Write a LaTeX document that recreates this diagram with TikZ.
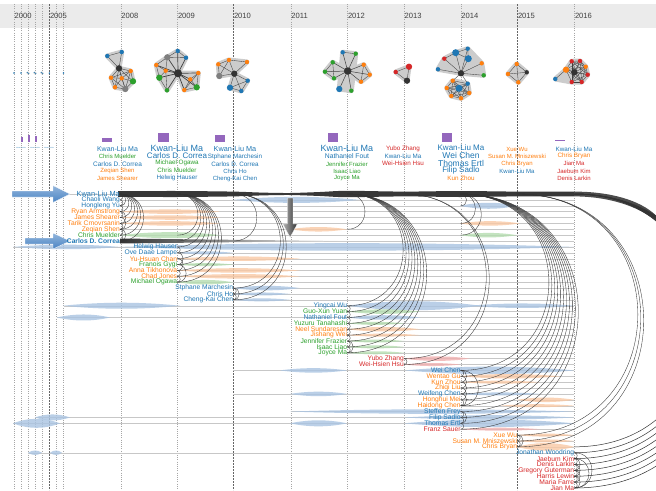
\documentclass[tikz,border=0pt]{standalone}
\usepackage{fontspec}
\setmainfont{Liberation Sans}
\usetikzlibrary{arrows.meta}
\definecolor{cblue}{HTML}{1F77B4}
\definecolor{corange}{HTML}{FF7F0E}
\definecolor{cgreen}{HTML}{2CA02C}
\definecolor{cred}{HTML}{D62728}
\definecolor{cpurple}{HTML}{9467BD}
\definecolor{cgray}{HTML}{7F7F7F}
\definecolor{cdark}{HTML}{333333}
\definecolor{bblue}{HTML}{A9C4E2}
\definecolor{borange}{HTML}{F9C9A4}
\definecolor{bgreen}{HTML}{B5DDB0}
\definecolor{bred}{HTML}{F0B0B0}
\definecolor{hdr}{HTML}{EBEBEB}
\definecolor{arrowblue}{HTML}{4A84C4}
\newcommand\KY[1]{194+5.88*#1}
\newcommand\karc[3][]{\draw[arcln,#1] (#2,194) .. controls ({#2+3.92*#3},194) and ({#2+3.92*#3},{\KY{#3}}) .. (#2,{\KY{#3}});}
\newcommand\kloop[3]{\draw[arcln] (#1,{\KY{#2}}) .. controls ({#1+3.92*(#3-#2)},{\KY{#2}}) and ({#1+3.92*(#3-#2)},{\KY{#3}}) .. (#1,{\KY{#3}});}
\newcommand\kband[5]{\fill[#5,opacity=.8] (#1,{\KY{#3}}) .. controls ({(2*#1+#2)/3},{\KY{#3}-#4}) and ({(#1+2*#2)/3},{\KY{#3}-#4}) .. (#2,{\KY{#3}}) .. controls ({(#1+2*#2)/3},{\KY{#3}+#4}) and ({(2*#1+#2)/3},{\KY{#3}+#4}) .. cycle;}
\newcommand\krow[3]{\draw[rowln] (#2,{\KY{#1}}) -- (#3,{\KY{#1}});}
\newcommand\nmnode[4]{\node[nm,text=#3] (r#1) at (#2,{\KY{#1}}) {#4};}
\newcommand\tcnode[5]{\node[tc,text=#4,font=\fontsize{#1}{#1}\selectfont] at (#2,#3) {#5};}
\begin{document}
\begin{tikzpicture}[x=1pt,y=-1pt,
  yl/.style={black!35, line width=0.4pt, dash pattern=on 1pt off 1.2pt},
  ylk/.style={black!60, line width=0.5pt, dash pattern=on 2pt off 1pt},
  yt/.style={anchor=west, inner sep=0, font=\fontsize{7.6}{8}\selectfont, text=black!75},
  hull/.style={fill=black!20, draw=black!20, line width=5pt, line join=round},
  gedge/.style={draw=black!75, line width=0.35pt},
  vx/.style={circle, inner sep=0, minimum size=4.4pt, fill=#1},
  vbig/.style={circle, inner sep=0, minimum size=6.3pt, fill=#1},
  nm/.style={anchor=east, inner sep=0pt, font=\fontsize{6.7}{7}\selectfont},
  tc/.style={inner sep=0},
  rowln/.style={black!22, line width=0.35pt},
  arcln/.style={black!80, line width=0.35pt},
]
\useasboundingbox (0,0) rectangle (656,490);
\clip (0,0) rectangle (656,490);
\fill[white] (0,0) rectangle (656,490);
% header
\fill[hdr] (0,4) rectangle (656,28);
\foreach \x in {14,21,28,35,42,56.5,63.5,120.7,177.3,290.7,347.3,404,460.7,574.3} {\draw[yl] (\x,4) -- (\x,490);}
\foreach \x in {49.3,233.3,517.3} {\draw[ylk] (\x,4) -- (\x,490);}
\foreach \x/\t in {14/2000,49.3/2005,120.7/2008,177.3/2009,233.3/2010,290.7/2011,347.3/2012,404/2013,460.7/2014,517.3/2015,574.3/2016}
  {\node[yt] (yr\t) at (\x+0.5,16) {\t};}

% ---------- early tiny graphs
\foreach \x in {14,21,28,35,42,49.3,63.5} {\fill[cblue] (\x,73) circle (0.8);}
\foreach \x in {28,35,42} {\fill[black!20] (\x,73) circle (1.6); \fill[cblue] (\x-0.8,72.5) circle (0.6); \fill[cblue] (\x+0.8,73.5) circle (0.6);}

% ---------- 2008 graph
\coordinate (g8a) at (107.3,56); \coordinate (g8b) at (121.7,52); \coordinate (g8c) at (119,68.3);
\coordinate (g8d) at (130.7,71); \coordinate (g8e) at (111,77.7); \coordinate (g8f) at (121.7,78.3);
\coordinate (g8g) at (133,81.3); \coordinate (g8h) at (115,87.3); \coordinate (g8i) at (125.3,89);
\filldraw[hull] (g8a)--(g8b)--(g8c)--cycle;
\filldraw[hull] (g8c)--(g8d)--(g8g)--(g8i)--(g8h)--(g8e)--cycle;
\foreach \u/\v in {a/b,a/c,b/c,c/d,c/e,c/f,c/g,c/h,c/i,d/f,d/g,d/e,e/f,e/h,f/g,f/h,f/i,g/i,h/i,e/i,d/i}
  {\draw[gedge] (g8\u)--(g8\v);}
\node[vx=cblue] at (g8a) {}; \node[vx=cblue] at (g8b) {}; \node[vbig=cdark] at (g8c) {};
\node[vx=corange] at (g8d) {}; \node[vx=corange] at (g8e) {}; \node[vx=corange] at (g8f) {};
\node[vbig=cgreen] at (g8g) {}; \node[vx=corange] at (g8h) {}; \node[vbig=cgray] at (g8i) {};

% ---------- 2009 graph
\coordinate (g9p) at (167.3,57.3); \coordinate (g9q) at (177.7,51); \coordinate (g9r) at (186,57.7);
\coordinate (g9s) at (156.3,65); \coordinate (g9t) at (165.7,70.7); \coordinate (g9C) at (178,73.3);
\coordinate (g9u) at (198.3,73); \coordinate (g9v) at (159.3,77.7); \coordinate (g9w) at (190.3,79.3);
\coordinate (g9x) at (196.7,87.3); \coordinate (g9y) at (184.3,90); \coordinate (g9z) at (167,90.3);
\filldraw[hull] (g9p)--(g9q)--(g9r)--(g9C)--cycle;
\filldraw[hull] (g9s)--(g9p)--(g9C)--(g9z)--(g9v)--cycle;
\filldraw[hull] (g9C)--(g9u)--(g9x)--(g9y)--cycle;
\foreach \v in {p,q,r,s,t,u,v,w,x,y,z} {\draw[gedge,line width=0.7pt] (g9C)--(g9\v);}
\foreach \u/\v in {p/q,q/r,p/r,p/s,p/t,s/t,s/v,t/v,v/z,t/z,u/w,w/x,u/x,w/y,y/x,u/y}
  {\draw[gedge] (g9\u)--(g9\v);}
\node[vbig=cgray] at (g9p) {}; \node[vx=cblue] at (g9q) {}; \node[vx=cblue] at (g9r) {};
\node[vx=corange] at (g9s) {}; \node[vx=corange] at (g9t) {};
\node[circle,inner sep=0,minimum size=8pt,fill=cdark] at (g9C) {};
\node[vx=corange] at (g9u) {}; \node[vbig=cgreen] at (g9v) {}; \node[vx=corange] at (g9w) {};
\node[vbig=cgreen] at (g9x) {}; \node[vx=corange] at (g9y) {}; \node[vx=cgreen] at (g9z) {};

% ---------- 2010 graph
\coordinate (gAa) at (218.3,64.3); \coordinate (gAb) at (229,60); \coordinate (gAk) at (247,62);
\coordinate (gAd) at (219.3,76); \coordinate (gAe) at (234.3,73.7); \coordinate (gAf) at (247.7,80.7);
\coordinate (gAg) at (230,87.7); \coordinate (gAh) at (241.3,91);
\filldraw[hull] (gAa)--(gAb)--(gAk)--(gAe)--(gAd)--cycle;
\filldraw[hull] (gAe)--(gAf)--(gAh)--(gAg)--cycle;
\foreach \v in {a,b,k,d,f,g,h} {\draw[gedge] (gAe)--(gA\v);}
\foreach \u/\v in {a/b,a/d,b/d,b/k,f/g,f/h,g/h} {\draw[gedge] (gA\u)--(gA\v);}
\node[vx=corange] at (gAa) {}; \node[vx=corange] at (gAb) {}; \node[vx=corange] at (gAk) {};
\node[vbig=cgray] at (gAd) {}; \node[vbig=cdark] at (gAe) {}; \node[vx=cblue] at (gAf) {};
\node[vbig=cblue] at (gAg) {}; \node[vx=cblue] at (gAh) {};

% ---------- 2012 graph
\coordinate (gCa) at (342.7,52.3); \coordinate (gCb) at (355.7,53.7); \coordinate (gCc) at (332.7,62.3);
\coordinate (gCj) at (325,71.7); \coordinate (gCC) at (347.7,71); \coordinate (gCd) at (334,78.3);
\coordinate (gCe) at (339.3,89); \coordinate (gCf) at (351.3,90.7); \coordinate (gCg) at (363.7,64.7);
\coordinate (gCh) at (369.7,74.7); \coordinate (gCi) at (361,81.7);
\filldraw[hull] (gCa)--(gCb)--(gCf)--(gCe)--cycle;
\filldraw[hull] (gCc)--(gCC)--(gCd)--(gCj)--cycle;
\filldraw[hull] (gCC)--(gCg)--(gCh)--(gCi)--cycle;
\foreach \v in {a,b,c,j,d,e,f,g,h,i} {\draw[gedge,line width=0.5pt] (gCC)--(gC\v);}
\foreach \u/\v in {a/b,c/j,j/d,c/d,g/h,h/i,g/i} {\draw[gedge] (gC\u)--(gC\v);}
\node[vx=cblue] at (gCa) {}; \node[vx=cgreen] at (gCb) {}; \node[vx=cgreen] at (gCc) {};
\node[vx=cgreen] at (gCj) {}; \node[circle,inner sep=0,minimum size=7.5pt,fill=cdark] at (gCC) {};
\node[vx=cgreen] at (gCd) {}; \node[vbig=cblue] at (gCe) {}; \node[vx=cgreen] at (gCf) {};
\node[vx=corange] at (gCg) {}; \node[vx=corange] at (gCh) {}; \node[vx=corange] at (gCi) {};

% ---------- 2013 graph
\coordinate (gDa) at (395.7,72); \coordinate (gDb) at (409,66.7); \coordinate (gDc) at (407,80.7);
\filldraw[hull] (gDa)--(gDb)--(gDc)--cycle;
\draw[gedge] (gDa)--(gDb)--(gDc)--cycle;
\node[vx=cred] at (gDa) {}; \node[vbig=cred] at (gDb) {}; \node[vbig=cdark] at (gDc) {};

% ---------- 2014 graph
\coordinate (gEa) at (455.7,52.7); \coordinate (gEb) at (467.7,48.7); \coordinate (gEc) at (468.3,58.7);
\coordinate (gEd) at (444.3,58.7); \coordinate (gEe) at (438,69.3); \coordinate (gEf) at (481.7,63.3);
\coordinate (gEC) at (461,73.3); \coordinate (gEg) at (483.7,75.3);
\coordinate (gEh) at (452.7,80.7); \coordinate (gEi) at (467.7,83.7); \coordinate (gEj) at (446.7,88);
\coordinate (gEk) at (459,88.3); \coordinate (gEl) at (469.3,93); \coordinate (gEm) at (451.3,96);
\coordinate (gEn) at (461,98.3);
\filldraw[hull] (gEe)--(gEd)--(gEa)--(gEb)--(gEf)--(gEg)--(gEC)--cycle;
\filldraw[hull] (gEh)--(gEi)--(gEl)--(gEn)--(gEm)--(gEj)--cycle;
\foreach \v in {a,b,c,d,e,f,g,h,i} {\draw[gedge] (gEC)--(gE\v);}
\foreach \u/\v in {a/b,b/c,a/c,d/a,h/i,h/j,h/k,h/l,h/m,h/n,i/j,i/k,i/l,i/m,i/n,j/k,j/l,j/m,j/n,k/l,k/m,k/n,l/m,l/n,m/n}
  {\draw[gedge] (gE\u)--(gE\v);}
\node[vbig=cblue,minimum size=7pt] at (gEa) {}; \node[vx=cblue] at (gEb) {}; \node[vbig=cblue,minimum size=7pt] at (gEc) {};
\node[vx=cred] at (gEd) {}; \node[vx=cblue] at (gEe) {}; \node[vx=corange] at (gEf) {};
\node[vbig=cdark] at (gEC) {}; \node[vx=cgreen] at (gEg) {};
\node[vx=corange] at (gEh) {}; \node[vx=cblue] at (gEi) {}; \node[vx=corange] at (gEj) {};
\node[vbig=cblue,minimum size=7pt] at (gEk) {}; \node[vx=corange] at (gEl) {}; \node[vx=corange] at (gEm) {};
\node[vx=corange] at (gEn) {};

% ---------- 2015 graph
\coordinate (gFa) at (516.7,64); \coordinate (gFb) at (508,74); \coordinate (gFc) at (526.7,72.3); \coordinate (gFd) at (518.3,82.3);
\filldraw[hull] (gFa)--(gFc)--(gFd)--(gFb)--cycle;
\foreach \u/\v in {a/b,a/c,a/d,b/c,b/d,c/d} {\draw[gedge] (gF\u)--(gF\v);}
\node[vx=corange] at (gFa) {}; \node[vx=corange] at (gFb) {}; \node[vx=cdark] at (gFc) {}; \node[vx=corange] at (gFd) {};

% ---------- 2016 graph
\coordinate (gGb) at (555.3,79); \coordinate (gGo) at (566,69.7); \coordinate (gGr) at (571.7,61.3);
\coordinate (gGs) at (580,61); \coordinate (gGp) at (585.7,66.7); \coordinate (gGt) at (587.7,74.7);
\coordinate (gGu) at (581.7,82); \coordinate (gGv) at (571.7,82); \coordinate (gGD) at (574.3,72.3);
\filldraw[hull] (gGb)--(gGo)--(gGr)--(gGs)--(gGp)--(gGt)--(gGu)--(gGv)--cycle;
\draw[gedge] (gGb)--(gGo);
\foreach \u/\v in {o/r,o/s,o/p,o/t,o/u,o/v,o/D,r/s,r/p,r/t,r/u,r/v,r/D,s/p,s/t,s/u,s/v,s/D,p/t,p/u,p/v,p/D,t/u,t/v,t/D,u/v,u/D,v/D}
  {\draw[gedge] (gG\u)--(gG\v);}
\node[vx=cblue] at (gGb) {}; \node[vbig=corange] at (gGo) {}; \node[vx=cred] at (gGr) {};
\node[vx=cred] at (gGs) {}; \node[vx=corange] at (gGp) {}; \node[vx=cred] at (gGt) {};
\node[vx=cred] at (gGu) {}; \node[vx=cred] at (gGv) {}; \node[vbig=cdark] at (gGD) {};

% ---------- purple bars
\fill[cpurple] (101.7,137.7) rectangle (111.7,141.7);
\fill[cpurple] (158.3,133.3) rectangle (169,141.7);
\fill[cpurple] (215,135) rectangle (225,141.7);
\fill[cpurple] (328.3,133.3) rectangle (338.3,141.7);
\fill[cpurple] (442.3,133.3) rectangle (452.3,141.7);
\fill[cpurple] (555,140) rectangle (565,141.2);
\fill[cpurple] (21,136.5) rectangle (23,141.5);
\fill[cpurple] (28,134.5) rectangle (30,141.5);
\fill[cpurple] (35,135.5) rectangle (37,141.5);
\foreach \x in {21,35,49} {\node[inner sep=0,text=cblue,font=\fontsize{1.6}{2}\selectfont] at (\x,147.5) {Kwan-Liu Ma};}

% ---------- top name columns
\tcnode{7}{117.5}{149}{cblue}{Kwan-Liu Ma}
\tcnode{6}{117.5}{156.5}{cgreen}{Chris Muelder}
\tcnode{6.5}{117.5}{164}{cblue}{Carlos D. Correa}
\tcnode{6}{117.5}{171}{corange}{Zeqian Shen}
\tcnode{6}{117.5}{178.5}{corange}{James Shearer}
\tcnode{9}{177}{148}{cblue}{Kwan-Liu Ma}
\tcnode{8}{177}{155.5}{cblue}{Carlos D. Correa}
\tcnode{6.3}{177}{163}{cgreen}{Michael Ogawa}
\tcnode{6.3}{177}{170.5}{cgreen}{Chris Muelder}
\tcnode{6.3}{177}{178}{cblue}{Helwig Hauser}
\tcnode{7.3}{235}{149}{cblue}{Kwan-Liu Ma}
\tcnode{6.3}{235}{157}{cblue}{Stphane Marchesin}
\tcnode{6.3}{235}{164}{cblue}{Carlos D. Correa}
\tcnode{6}{235}{171}{cblue}{Chris Ho}
\tcnode{6}{235}{178.5}{cblue}{Cheng-Kai Chen}
\tcnode{9}{347}{148}{cblue}{Kwan-Liu Ma}
\tcnode{6.8}{347}{156.5}{cblue}{Nathaniel Fout}
\tcnode{6}{347}{164}{cgreen}{Jennifer Frazier}
\tcnode{6}{347}{171}{cgreen}{Isaac Liao}
\tcnode{6}{347}{178}{cgreen}{Joyce Ma}
\tcnode{6.3}{403}{149}{cred}{Yubo Zhang}
\tcnode{6.3}{403}{156}{cblue}{Kwan-Liu Ma}
\tcnode{6.3}{403}{163}{cred}{Wei-Hsien Hsu}
\tcnode{8}{461}{148}{cblue}{Kwan-Liu Ma}
\tcnode{8.5}{461}{155.5}{cblue}{Wei Chen}
\tcnode{8.5}{461}{163}{cblue}{Thomas Ertl}
\tcnode{8}{461}{170.5}{cblue}{Filip Sadlo}
\tcnode{6.3}{461}{178}{corange}{Kun Zhou}
\tcnode{6}{517}{149}{corange}{Xue Wu}
\tcnode{6}{517}{156}{corange}{Susan M. Mniszewski}
\tcnode{6}{517}{163.5}{corange}{Chris Bryan}
\tcnode{6}{517}{171}{cblue}{Kwan-Liu Ma}
\tcnode{6.3}{574}{149}{cblue}{Kwan-Liu Ma}
\tcnode{6.3}{574}{156}{corange}{Chris Bryan}
\tcnode{6}{574}{163.5}{cred}{Jian Ma}
\tcnode{6}{574}{171}{cred}{Jaebum Kim}
\tcnode{6}{574}{178}{cred}{Denis Larkin}

% ---------- row lines (end at 2016)
\draw[rowln] (13,194) -- (120,194);
\foreach \k in {1,...,8} {\krow{\k}{120}{574.3}}
\foreach \k in {10,...,15} {\krow{\k}{177.3}{574.3}}
\krow{9}{13}{574.3}
\foreach \k in {16,17,18} {\krow{\k}{233.3}{574.3}}
\krow{19}{63.5}{574.3} \krow{20}{347.3}{574.3} \krow{21}{56.5}{574.3}
\foreach \k in {22,...,27} {\krow{\k}{347.3}{574.3}}
\krow{28}{404}{574.3} \krow{29}{404}{574.3}
\krow{30}{233.3}{574.3}
\foreach \k in {31,32,33,35,36,40} {\krow{\k}{460.7}{574.3}}
\krow{34}{233.3}{574.3} \krow{37}{290.7}{574.3} \krow{38}{35}{574.3} \krow{39}{13}{574.3}
\foreach \k in {41,42,43} {\krow{\k}{517.3}{574.3}}
\krow{44}{28}{578}
\foreach \k in {45,...,50} {\krow{\k}{574.3}{578}}

% ---------- bands
\kband{13}{120}{9}{3}{bblue} \kband{120}{574.3}{9}{5}{bblue}
\kband{233}{360}{1}{4}{bblue} \kband{460}{517}{2}{4}{bblue}
\kband{120}{220}{3}{3}{borange} \kband{120}{220}{4}{3}{borange} \kband{120}{220}{5}{3}{borange}
\kband{460}{520}{5}{3}{borange} \kband{290}{347}{6}{3}{borange}
\kband{120}{220}{7}{4}{bgreen} \kband{460}{517}{7}{3}{bgreen}
\kband{177}{233}{10}{2}{bblue} \kband{177}{300}{11}{3}{borange} \kband{177}{233}{12}{2}{bgreen}
\kband{177}{300}{13}{3}{borange} \kband{177}{300}{14}{3}{borange} \kband{177}{233}{15}{3}{bgreen}
\kband{233}{300}{16}{3}{bblue} \kband{233}{290}{17}{2}{bblue} \kband{233}{290}{18}{2}{bblue}
\kband{63}{180}{19}{4}{bblue} \kband{347}{480}{19}{6}{bblue} \kband{470}{574.3}{19}{3}{bblue}
\kband{347}{420}{20}{3}{bgreen} \kband{57}{110}{21}{4}{bblue} \kband{347}{420}{21}{3}{bblue}
\kband{347}{404}{22}{2}{bgreen} \kband{347}{420}{23}{3}{borange} \kband{347}{420}{24}{2}{borange}
\kband{347}{404}{25}{2}{bgreen} \kband{347}{404}{26}{2}{bgreen} \kband{347}{404}{27}{2}{bgreen}
\kband{404}{470}{28}{3}{bred} \kband{404}{460}{29}{2}{bred}
\kband{280}{347}{30}{3}{bblue} \kband{405}{574.3}{30}{5}{bblue}
\kband{460}{560}{31}{3}{borange} \kband{460}{540}{32}{2}{borange}
\kband{290}{347}{34}{3}{bblue} \kband{460}{540}{34}{2}{bblue} \kband{517}{574.3}{35}{3}{borange}
\kband{500}{574.3}{36}{2}{borange}
\kband{290}{574.3}{37}{3}{bblue} \kband{35}{70}{38}{4}{bblue} \kband{404}{574.3}{38}{3}{bblue}
\kband{13}{60}{39}{6}{bblue} \kband{290}{347}{39}{4}{bblue} \kband{404}{574.3}{39}{5}{bblue}
\kband{460}{540}{40}{2}{bred}
\kband{517}{574.3}{41}{2}{borange} \kband{517}{574.3}{42}{2}{borange} \kband{517}{574.3}{43}{5}{borange}
\kband{28}{42}{44}{3}{bblue} \kband{50}{62}{44}{3}{bblue}

% ---------- Kwan-Liu Ma main band
\fill[black!78] plot[smooth] coordinates {(118,191.2) (177,191) (233,191.6) (262,192.6) (290,193) (320,192) (347,190.8) (404,191.6) (460,191) (517,191.6) (574,191.6)}
  -- plot[smooth] coordinates {(574,196.4) (517,196.4) (460,197) (404,196.4) (347,197.2) (320,196) (290,195) (262,195.4) (233,196.4) (177,197) (118,196.8)} -- cycle;
\shade[left color=black!80, right color=black!3] (120,238.5) .. controls (200,239.5) and (300,240.5) .. (347,241) .. controls (300,241.5) and (200,242.5) .. (120,243.5) -- cycle;
% thick start of the 2016 bundle
\fill[black!70] (574,191.6) .. controls (610,191.6) and (640,200) .. (656,215.5) -- (656,221) .. controls (638,206) and (608,196.4) .. (574,196.4) -- cycle;

% ---------- arcs
\foreach \k in {1,...,8} {\karc{120}{\k}}
\foreach \k in {7,...,15} {\karc{177.3}{\k}}
\foreach \k in {8,16,17,18} {\karc{233.3}{\k}}
\foreach \k in {6,19,20,...,27} {\karc{347.3}{\k}}
\karc{404}{28} \karc{404}{29}
\foreach \k in {2,5,7,30,31,...,40} {\karc{460.7}{\k}}
\foreach \k in {41,42,43} {\karc{517.3}{\k}}
\foreach \k in {43,44,...,50} {\karc[line width=0.5pt]{574.3}{\k}}
\foreach \a/\b in {1/2,2/3,3/4,3/5,4/6,5/6,6/7,6/8,7/8} {\kloop{120}{\a}{\b}}
\foreach \a/\b in {9/10,10/12,11/13,13/14,12/15,14/15} {\kloop{177.3}{\a}{\b}}
\foreach \a/\b in {16/17,17/18,16/18} {\kloop{233.3}{\a}{\b}}
\foreach \a/\b in {19/20,20/21,21/22,22/23,23/24,24/25,25/26,26/27,25/27} {\kloop{347.3}{\a}{\b}}
\kloop{404}{28}{29}
\foreach \a/\b in {30/31,30/32,31/33,32/34,33/35,34/36,35/36,30/36,37/38,38/39,37/39,39/40} {\kloop{460.7}{\a}{\b}}
\foreach \a/\b in {41/42,42/43,41/43} {\kloop{517.3}{\a}{\b}}
\foreach \a/\b in {44/45,45/46,46/47,47/48,48/49,49/50,45/47,46/48,47/49,48/50,45/50,44/50} {\kloop{574.3}{\a}{\b}}

% ---------- arrows
\shade[top color=arrowblue!60, bottom color=arrowblue, draw=white, line width=0.3pt]
  (12,191) -- (53,191) -- (53,185.5) -- (70,194) -- (53,202.5) -- (53,197) -- (12,197) -- cycle;
\shade[top color=arrowblue!60, bottom color=arrowblue, draw=white, line width=0.3pt]
  (25,238) -- (53,238) -- (53,233) -- (70,241) -- (53,249) -- (53,244) -- (25,244) -- cycle;
\shade[left color=black!30, right color=black!80, draw=white, line width=0.3pt]
  (287.3,198) -- (292.9,198) -- (292.9,224) -- (297.3,224) -- (290.1,237.3) -- (282.7,224) -- (287.3,224) -- cycle;

% ---------- names
\node[nm,text=cblue,font=\fontsize{7.4}{8}\selectfont] (r0) at (120,194) {Kwan-Liu Ma};
\nmnode{1}{120}{cblue}{Chaoli Wang}
\nmnode{2}{120}{cblue}{Hongleng Yu}
\nmnode{3}{120}{corange}{Ryan Armstrong}
\nmnode{4}{120}{corange}{James Shearer}
\nmnode{5}{120}{corange}{Tarik Crnovrsanin}
\nmnode{6}{120}{corange}{Zeqian Shen}
\nmnode{7}{120}{cgreen}{Chris Muelder}
\node[nm,text=cblue,font=\fontsize{6.7}{7}\selectfont\bfseries] (r8) at (120,{\KY{8}}) {Carlos D. Correa};
\nmnode{9}{177.3}{cblue}{Helwig Hauser}
\nmnode{10}{177.3}{cblue}{Ove Daae Lampe}
\nmnode{11}{177.3}{corange}{Yu-Hsuan Chan}
\nmnode{12}{177.3}{cgreen}{Franois Gygi}
\nmnode{13}{177.3}{corange}{Anna Tikhonova}
\nmnode{14}{177.3}{corange}{Chad Jones}
\nmnode{15}{177.3}{cgreen}{Michael Ogawa}
\nmnode{16}{233.3}{cblue}{Stphane Marchesin}
\nmnode{17}{233.3}{cblue}{Chris Ho}
\nmnode{18}{233.3}{cblue}{Cheng-Kai Chen}
\nmnode{19}{347.3}{cblue}{Yingcai Wu}
\nmnode{20}{347.3}{cgreen}{Guo-Xun Yuan}
\nmnode{21}{347.3}{cblue}{Nathaniel Fout}
\nmnode{22}{347.3}{cgreen}{Yuzuru Tanahashi}
\nmnode{23}{347.3}{corange}{Neel Sundaresan}
\nmnode{24}{347.3}{corange}{Jishang Wei}
\nmnode{25}{347.3}{cgreen}{Jennifer Frazier}
\nmnode{26}{347.3}{cgreen}{Isaac Liao}
\nmnode{27}{347.3}{cgreen}{Joyce Ma}
\nmnode{28}{404}{cred}{Yubo Zhang}
\nmnode{29}{404}{cred}{Wei-Hsien Hsu}
\nmnode{30}{460.7}{cblue}{Wei Chen}
\nmnode{31}{460.7}{corange}{Wentao Gu}
\nmnode{32}{460.7}{corange}{Kun Zhou}
\nmnode{33}{460.7}{corange}{Zhiqi Liu}
\nmnode{34}{460.7}{cblue}{Weifeng Chen}
\nmnode{35}{460.7}{corange}{Honghui Mei}
\nmnode{36}{460.7}{corange}{Haidong Chen}
\nmnode{37}{460.7}{cblue}{Steffen Frey}
\nmnode{38}{460.7}{cblue}{Filip Sadlo}
\nmnode{39}{460.7}{cblue}{Thomas Ertl}
\nmnode{40}{460.7}{cred}{Franz Sauer}
\nmnode{41}{517.3}{corange}{Xue Wu}
\nmnode{42}{517.3}{corange}{Susan M. Mniszewski}
\nmnode{43}{517.3}{corange}{Chris Bryan}
\nmnode{44}{574.3}{cblue}{Jonathan Woodring}
\nmnode{45}{574.3}{cred}{Jaebum Kim}
\nmnode{46}{574.3}{cred}{Denis Larkin}
\nmnode{47}{574.3}{cred}{Gregory Guterman}
\nmnode{48}{574.3}{cred}{Harris Lewin}
\nmnode{49}{574.3}{cred}{Maria Farre}
\nmnode{50}{574.3}{cred}{Jian Ma}
\end{tikzpicture}
\end{document}
